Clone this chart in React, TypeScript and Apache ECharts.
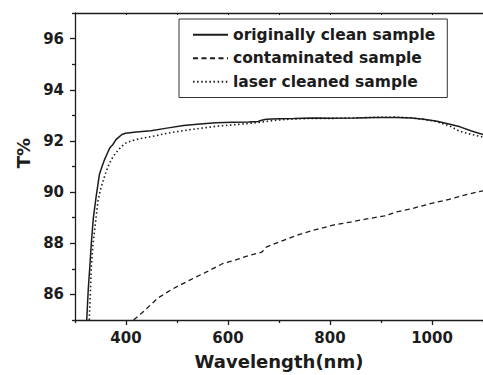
import React, { useEffect, useRef } from "react";
import * as echarts from "echarts";

// originally clean sample (solid)
const cleanWl = [323, 326, 329, 332, 336, 342, 348, 353, 358, 363, 368, 374, 380, 386, 392, 399, 420, 449, 480, 513, 545, 576, 610, 640, 659, 666, 675, 700, 729, 767, 800, 850, 888, 930, 960, 984, 1010, 1035, 1055, 1076, 1100];
const cleanT = [85.0, 86.2, 87.06, 88.0, 89.0, 89.9, 90.7, 91.0, 91.27, 91.5, 91.72, 91.85, 92.04, 92.15, 92.25, 92.3, 92.35, 92.4, 92.5, 92.6, 92.66, 92.71, 92.73, 92.74, 92.76, 92.81, 92.85, 92.87, 92.88, 92.9, 92.89, 92.9, 92.92, 92.92, 92.9, 92.85, 92.77, 92.65, 92.55, 92.4, 92.25];

// contaminated sample (dashed)
const contWl = [415, 431, 462, 490, 525, 560, 589, 615, 646, 666, 672, 675, 700, 742, 770, 806, 840, 869, 907, 933, 960, 997, 1030, 1073, 1100];
const contT = [85.0, 85.27, 85.85, 86.2, 86.56, 86.9, 87.2, 87.35, 87.55, 87.65, 87.78, 87.85, 88.05, 88.36, 88.52, 88.71, 88.83, 88.94, 89.07, 89.24, 89.35, 89.55, 89.7, 89.93, 90.05];

// laser cleaned sample (dotted)
const laserWl = [328, 330, 332, 335, 339, 345, 350, 355, 361, 367, 375, 383, 391, 399, 410, 425, 450, 481, 512, 544, 576, 610, 640, 670, 700, 729, 767, 800, 850, 888, 930, 960, 984, 1010, 1035, 1054, 1076, 1100];
const laserT = [85.0, 86.0, 87.07, 87.9, 88.6, 89.65, 90.1, 90.43, 90.8, 91.1, 91.4, 91.6, 91.78, 91.91, 92.0, 92.08, 92.17, 92.3, 92.4, 92.49, 92.57, 92.63, 92.68, 92.75, 92.82, 92.86, 92.88, 92.88, 92.9, 92.92, 92.93, 92.9, 92.84, 92.75, 92.58, 92.38, 92.26, 92.15];

const seriesNames = ["originally clean sample", "contaminated sample", "laser cleaned sample"];
const xLabelValues = [400, 600, 800, 1000];
const xMinorTicks = [300, 500, 700, 900, 1100];
const yLabelValues = [86, 88, 90, 92, 94, 96];
const yMinorTicks = [85, 87, 89, 91, 93, 95, 97];

const FONT = "DejaVu Sans";
const INK = "#1c1c1c";

const pairs = (xs: number[], ys: number[]) => xs.map((x, i) => [x, ys[i]]);

export default function App() {
  const ref = useRef<HTMLDivElement>(null);
  useEffect(() => {
    const chart = echarts.init(ref.current!, null, { renderer: "svg" });
    const axisLine = { show: true, onZero: false, lineStyle: { color: INK, width: 1.3 } };
    const labelStyle = { fontFamily: FONT, fontWeight: "bold" as const, fontSize: 15, color: INK };
    chart.setOption({
      animation: false,
      backgroundColor: "#ffffff",
      grid: { left: 75, right: -11, top: 13, bottom: 51.5, containLabel: false },
      legend: {
        orient: "vertical",
        left: 179,
        top: 19,
        data: seriesNames,
        itemWidth: 35,
        itemHeight: 14,
        itemGap: 0,
        padding: [4, 12, 4, 13],
        borderColor: "#333",
        borderWidth: 1,
        selectedMode: false,
        itemStyle: { opacity: 0 },
        textStyle: { fontFamily: FONT, fontWeight: "bold", fontSize: 15.5, color: INK, lineHeight: 23.5 },
      },
      xAxis: [
        {
          type: "value", position: "bottom", min: 300, max: 1100, interval: 100,
          axisLine,
          splitLine: { show: false },
          axisTick: { show: true, inside: false, length: 5, customValues: xLabelValues, lineStyle: { color: INK, width: 1.3 } },
          axisLabel: { ...labelStyle, customValues: xLabelValues, margin: 10.5, formatter: (v: number) => String(v) },
          name: "Wavelength(nm)", nameLocation: "middle", nameGap: 32,
          nameTextStyle: { fontFamily: FONT, fontWeight: "bold", fontSize: 18, color: INK },
        },
        {
          type: "value", position: "bottom", min: 300, max: 1100, interval: 100,
          axisLine: { show: false },
          splitLine: { show: false },
          axisTick: { show: true, inside: false, length: 3, customValues: xMinorTicks, lineStyle: { color: INK, width: 1.3 } },
          axisLabel: { show: false },
        },
        {
          type: "value", position: "top", min: 300, max: 1100, interval: 100,
          axisLine,
          splitLine: { show: false },
          axisTick: { show: true, inside: true, length: 2, lineStyle: { color: INK, width: 1 } },
          axisLabel: { show: false },
        },
      ],
      yAxis: [
        {
          type: "value", position: "left", min: 85, max: 97, interval: 1,
          axisLine,
          splitLine: { show: false },
          axisTick: { show: true, inside: false, length: 5, customValues: yLabelValues, lineStyle: { color: INK, width: 1.3 } },
          axisLabel: { ...labelStyle, customValues: yLabelValues, margin: 11 },
        },
        {
          type: "value", position: "left", min: 85, max: 97, interval: 1,
          axisLine: { show: false },
          splitLine: { show: false },
          axisTick: { show: true, inside: false, length: 3, customValues: yMinorTicks, lineStyle: { color: INK, width: 1.3 } },
          axisLabel: { show: false },
        },
      ],
      graphic: [
        {
          type: "text",
          x: 23,
          y: 153,
          rotation: Math.PI / 2,
          style: {
            text: "T%",
            fontFamily: FONT,
            fontWeight: "bold",
            fontSize: 18,
            fill: INK,
            align: "center",
            verticalAlign: "middle",
          },
        },
      ],
      series: [
        {
          name: seriesNames[0], type: "line", xAxisIndex: 0, yAxisIndex: 0,
          data: pairs(cleanWl, cleanT), symbol: "none", showSymbol: false,
          lineStyle: { color: INK, width: 1.5, type: "solid" }, itemStyle: { color: INK },
        },
        {
          name: seriesNames[1], type: "line", xAxisIndex: 0, yAxisIndex: 0,
          data: pairs(contWl, contT), symbol: "none", showSymbol: false,
          lineStyle: { color: INK, width: 1.3, type: [5, 3.5] }, itemStyle: { color: INK },
        },
        {
          name: seriesNames[2], type: "line", xAxisIndex: 0, yAxisIndex: 0,
          data: pairs(laserWl, laserT), symbol: "none", showSymbol: false,
          lineStyle: { color: INK, width: 1.6, type: [1.5, 2.6] }, itemStyle: { color: INK },
        },
      ],
    });
    return () => chart.dispose();
  }, []);
  return <div ref={ref} style={{ position: "fixed", left: 0, top: 0, width: 483, height: 375 }} />;
}
